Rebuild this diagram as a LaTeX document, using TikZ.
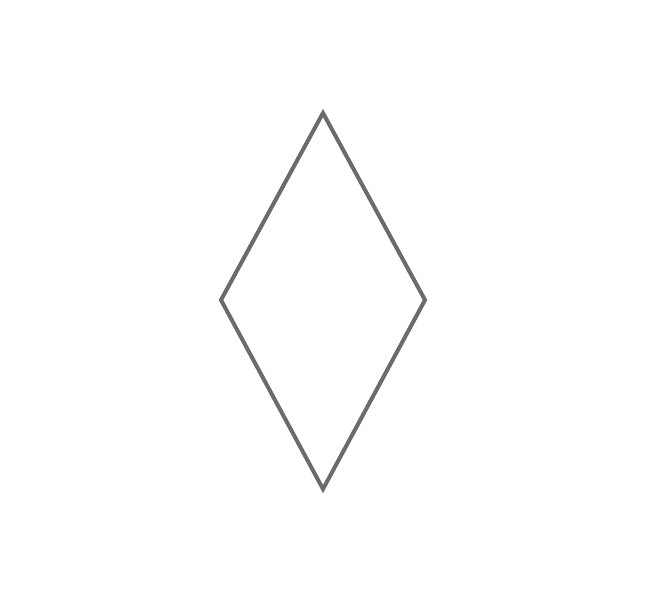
\documentclass[tikz,border=0pt]{standalone}
\definecolor{rhombgray}{HTML}{6B6B6B}
\begin{document}
\begin{tikzpicture}[x=1pt,y=-1pt]
  \useasboundingbox (0,0) rectangle (646,603);
  \draw[rhombgray,line width=4pt,line join=miter]
    (323,113) -- (425,300) -- (323,489) -- (221,300) -- cycle;
\end{tikzpicture}
\end{document}
